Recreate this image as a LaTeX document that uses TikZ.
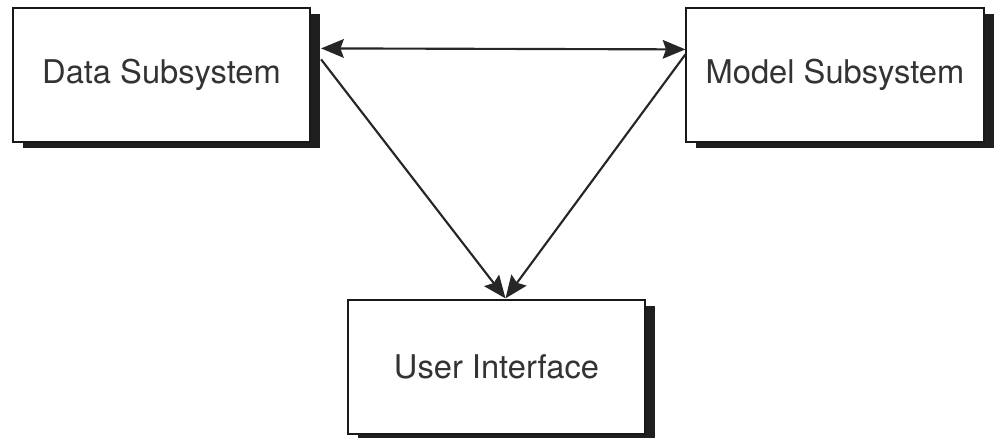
\documentclass[tikz,border=0pt]{standalone}
\usepackage{fontspec}
\setmainfont{TeX Gyre Heros}
\usetikzlibrary{arrows.meta,shadows,calc}

\tikzset{
  sysbox/.style={
    draw=black!90, line width=1.4pt, fill=white,
    minimum width=223pt, minimum height=100pt, inner sep=0pt,
    text=black!80, font=\fontsize{24.5}{29}\selectfont,
    drop shadow={shadow xshift=7.5pt, shadow yshift=-4.5pt,
                 fill=black!88, opacity=1}
  },
  link/.style={draw=black!85, line width=1.6pt},
  head/.tip={Stealth[length=17pt,width=14pt,inset=2.5pt]},
  tip/.style={-head}
}

\begin{document}
\begin{tikzpicture}[x=0.75pt,y=-0.75pt]
  \useasboundingbox (0,0) rectangle (997,438);

  % the three subsystems
  \node[sysbox] (data)  at (161.5,75)  {Data Subsystem};
  \node[sysbox] (model) at (835,75)    {Model Subsystem};
  \node[sysbox] (ui)    at (496.5,367) {User Interface};

  % anchor points on the box edges
  \coordinate (dtop) at ($(data.north east)+(10,41)$);
  \coordinate (mtop) at ($(model.north west)+(0,42)$);
  \coordinate (dlow) at ($(data.north east)+(10,52)$);
  \coordinate (mlow) at ($(model.north west)+(0,47)$);
  \coordinate (uin)  at ($(ui.north)+(9,-1)$);

  % connectors
  \draw[link,head-head] (dtop) -- (mtop);
  \draw[link,tip] (dlow) -- (uin);
  \draw[link,tip] (mlow) -- (uin);
\end{tikzpicture}
\end{document}
